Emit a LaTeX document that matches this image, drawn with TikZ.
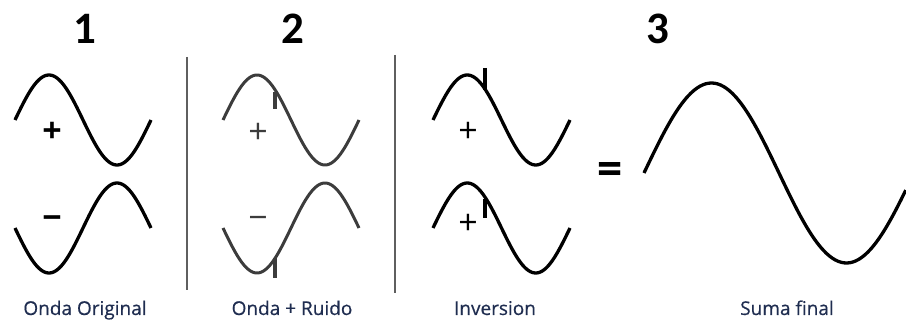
\documentclass[tikz,border=0pt]{standalone}
\usepackage{fontspec}
\setmainfont{Open Sans}
\newfontfamily\digitfont{Carlito}
\newfontfamily\capfont[FakeBold=0.5]{Open Sans}
\definecolor{labelblue}{RGB}{31,45,80}
\definecolor{noisegray}{RGB}{60,60,60}
\definecolor{rulegray}{RGB}{95,95,95}
% sine wave: start x, centre y, amplitude, period, style
\newcommand\ondasen[5]{\draw[#5] plot[domain=0:360, samples=91, smooth] ({#1+\x/360*#4},{#2-#3*sin(\x)});}

\begin{document}
\begin{tikzpicture}[
            x=1pt, y=-1pt,
            wave/.style={line width=3.3pt, black},
            noisywave/.style={line width=3pt, noisegray},
            noise/.style={line width=4pt},
            divider/.style={line width=1.8pt, rulegray},
            num/.style={font=\digitfont\bfseries\fontsize{45}{45}\selectfont, inner sep=0pt},
            sign/.style={font=\fontsize{34}{34}\selectfont, inner sep=0pt},
            boldsign/.style={font=\bfseries\fontsize{34}{34}\selectfont, inner sep=0pt},
            caption/.style={font=\capfont\fontsize{19}{19}\selectfont, text=labelblue, anchor=base, inner sep=0pt}
        ]
            \useasboundingbox (0,0) rectangle (906,320);

            % Numbers
            \node [num] (n1) at (85,29) {1};
            \node [num] (n2) at (293,29) {2};
            \node [num] (n3) at (658,29) {3};

            % Dividers
            \draw [divider] (187,57) -- (187,290);
            \draw [divider] (395,55) -- (395,293);

            % Onda original
            \ondasen{15}{120}{45}{136}{wave}
            \ondasen{15}{228}{-45}{136}{wave}
            \node [boldsign] (p1) at (52,132) {+};
            \node [boldsign] (m1) at (52,223) {−};

            % Onda + ruido
            \ondasen{223}{120}{45}{136}{noisywave}
            \ondasen{223}{228}{-45}{136}{noisywave}
            \draw [noise, noisegray] (275,92) -- (275,109);
            \draw [noise, noisegray] (275,258) -- (275,278);
            \node [sign, text=noisegray] (p2) at (258,133) {+};
            \node [sign, text=noisegray] (m2) at (258,223) {−};

            % Inversion
            \ondasen{433}{120}{45}{137}{wave}
            \ondasen{433}{228}{45}{137}{wave}
            \draw [noise] (485,68) -- (485,90);
            \draw [noise] (485,199) -- (485,218);
            \node [sign] (p3) at (468,132) {+};
            \node [sign] (p4) at (468,224) {+};

            % Suma final
            \node [boldsign, font=\bfseries\fontsize{44}{44}\selectfont] (eq) at (610,174) {=};
            \draw [wave] plot[domain=0:349, samples=90, smooth] ({644+\x/360*270},{173-90*sin(\x)});

            % Captions
            \node [caption] (c1) at (85,315) {Onda Original};
            \node [caption] (c2) at (292,315) {Onda + Ruido};
            \node [caption] (c3) at (495,315) {Inversion};
            \node [caption] (c4) at (787,315) {Suma final};
        \end{tikzpicture}
\end{document}
